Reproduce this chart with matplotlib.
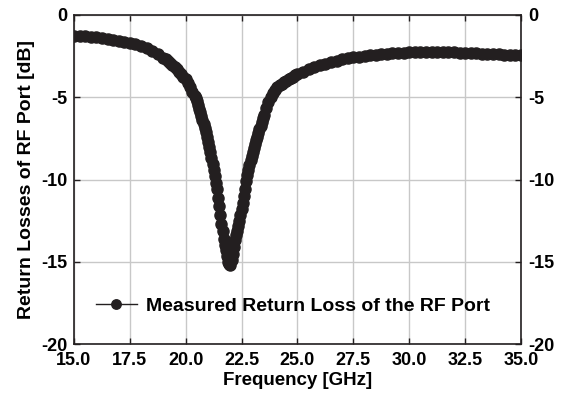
import matplotlib
matplotlib.use('Agg')
import matplotlib.pyplot as plt

plt.rcParams['font.family'] = ['Liberation Sans', 'DejaVu Sans']
plt.rcParams['font.weight'] = 'bold'

# 测量数据 (GHz, dB) - 谐振附近采样更密
freq = [15.0, 15.25, 15.5, 15.75, 16.0, 16.25, 16.5, 16.75, 17.0, 17.25,
        17.5, 17.75, 18.0, 18.25, 18.5, 18.75, 19.0,
        19.1, 19.2, 19.3, 19.4, 19.5, 19.6, 19.7, 19.8, 19.9, 20.0,
        20.1, 20.2, 20.3, 20.4,
        20.45, 20.5, 20.55, 20.6, 20.65, 20.7, 20.75, 20.8, 20.85, 20.9,
        20.95, 21.0, 21.05, 21.1, 21.15, 21.2, 21.25, 21.3, 21.35, 21.4,
        21.45, 21.5, 21.55, 21.6, 21.65, 21.7, 21.75, 21.8, 21.85, 21.9,
        21.95, 22.0, 22.05, 22.1, 22.15, 22.2, 22.25, 22.3, 22.35, 22.4,
        22.45, 22.5, 22.55, 22.6, 22.65, 22.7, 22.75, 22.8, 22.85, 22.9,
        22.95, 23.0, 23.05, 23.1, 23.15, 23.2, 23.25, 23.3, 23.35, 23.4,
        23.45, 23.5,
        23.6, 23.7, 23.8, 23.9, 24.0, 24.1, 24.2, 24.3, 24.4, 24.5,
        24.6, 24.7, 24.8, 24.9, 25.0,
        25.25, 25.5, 25.75, 26.0, 26.25, 26.5, 26.75, 27.0, 27.25, 27.5,
        27.75, 28.0, 28.25, 28.5, 28.75, 29.0, 29.25, 29.5, 29.75, 30.0,
        30.25, 30.5, 30.75, 31.0, 31.25, 31.5, 31.75, 32.0, 32.25, 32.5,
        32.75, 33.0, 33.25, 33.5, 33.75, 34.0, 34.25, 34.5, 34.75, 35.0]
return_loss = [-1.25, -1.27, -1.30, -1.33, -1.36, -1.40, -1.44, -1.50, -1.56, -1.62,
               -1.68, -1.76, -1.86, -2.00, -2.17, -2.37, -2.60,
               -2.70, -2.81, -2.93, -3.05, -3.17, -3.30, -3.44, -3.59, -3.74, -3.90,
               -4.15, -4.40, -4.65, -4.90,
               -5.07, -5.25, -5.47, -5.70, -5.92, -6.15, -6.37, -6.60, -6.85, -7.10,
               -7.40, -7.70, -8.02, -8.35, -8.70, -9.05, -9.42, -9.80, -10.2, -10.6,
               -11.1, -11.6, -12.15, -12.7, -13.15, -13.6, -13.95, -14.3, -14.65, -15.0,
               -15.15, -15.2, -14.9, -14.5, -14.1, -13.7, -13.4, -13.1, -12.8, -12.5,
               -12.15, -11.8, -11.4, -11.0, -10.55, -10.1, -9.75, -9.40, -9.10, -8.80,
               -8.55, -8.30, -8.07, -7.85, -7.62, -7.40, -7.17, -6.95, -6.72, -6.50,
               -6.27, -6.05,
               -5.65, -5.30, -5.00, -4.75, -4.55, -4.40, -4.28, -4.18, -4.09, -4.00,
               -3.92, -3.84, -3.75, -3.67, -3.60,
               -3.45, -3.30, -3.17, -3.05, -2.95, -2.85, -2.77, -2.70, -2.64, -2.58,
               -2.53, -2.49, -2.45, -2.42, -2.39, -2.36, -2.33, -2.30, -2.28, -2.26,
               -2.25, -2.24, -2.24, -2.23, -2.23, -2.24, -2.25, -2.26, -2.28, -2.30,
               -2.32, -2.34, -2.36, -2.37, -2.38, -2.40, -2.41, -2.43, -2.44, -2.45]

xticks = [15.0, 17.5, 20.0, 22.5, 25.0, 27.5, 30.0, 32.5, 35.0]
yticks = [0, -5, -10, -15, -20]

fig = plt.figure(figsize=(5.66, 4.01), dpi=100)
ax = fig.add_axes([0.1307, 0.142, 0.7898, 0.8206])

ax.plot(freq, return_loss, '-o', color='#231f20', lw=1, ms=8,
        label='Measured Return Loss of the RF Port', zorder=3)

ax.set_xlim(15, 35)
ax.set_ylim(-20, 0)
ax.set_xticks(xticks)
ax.set_xticklabels([f'{t:.1f}' for t in xticks])
ax.set_yticks(yticks)
ax.set_yticklabels([str(t) for t in yticks])
ax.grid(True, color='#c8c8c8', lw=1)
ax.set_axisbelow(True)

ax.tick_params(direction='in', top=True, right=True, labelright=True,
               length=4, width=1, labelsize=13, color='#231f20')
ax.tick_params(axis='x', pad=6)
ax.tick_params(axis='y', pad=5)
for s in ax.spines.values():
    s.set_linewidth(1.2)
    s.set_color('#231f20')

ax.set_xlabel('Frequency [GHz]', fontsize=13.5, fontweight='bold', labelpad=2)
ax.set_ylabel('Return Losses of RF Port [dB]', fontsize=14, fontweight='bold', labelpad=4)

leg = ax.legend(loc='lower left', bbox_to_anchor=(0.01, 0.035), frameon=False,
                prop={'size': 14, 'weight': 'bold'}, handlelength=2.1,
                handletextpad=0.45, markerscale=0.85)

fig.savefig('out.png', dpi=100)
